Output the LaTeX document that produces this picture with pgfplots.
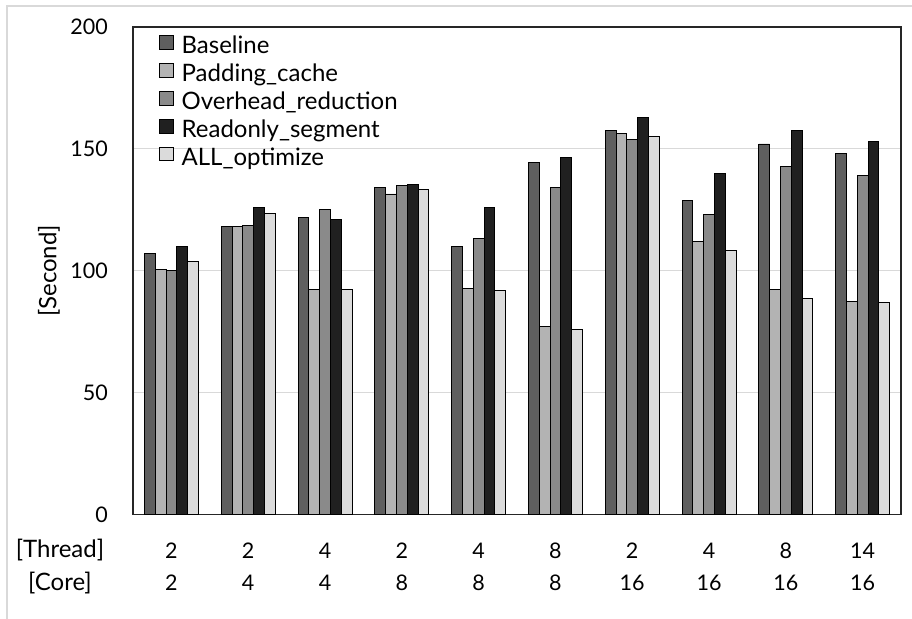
\documentclass[border=0pt]{standalone}
\usepackage{pgfplots}
\pgfplotsset{compat=1.18}
\usepackage{pgfplotstable}
\usepackage{fontspec}
\setmainfont{Lato}

\definecolor{cBase}{HTML}{5F5F5F}
\definecolor{cPad}{HTML}{B3B3B3}
\definecolor{cOver}{HTML}{8A8A8A}
\definecolor{cRead}{HTML}{202020}
\definecolor{cAll}{HTML}{DBDBDB}
\definecolor{gridgray}{HTML}{D9D9D9}

% Execution time per configuration (x = configuration index)
\pgfplotstableread{
x base pad over read all
1 107.0 100.5 100.0 110.0 103.7
2 118.0 118.0 118.6 126.1 123.6
3 122.0  92.5 125.1 121.0  92.5
4 134.0 131.5 135.1 135.5 133.5
5 110.0  92.7 113.1 126.0  92.0
6 144.5  77.2 134.0 146.4  76.0
7 157.5 156.4 153.7 162.7 155.0
8 129.0 112.0 123.2 140.0 108.3
9 152.0  92.3 142.8 157.5  88.5
10 148.0 87.4 139.2 153.1  87.0
}\timings

\newcommand{\chartfont}{\fontsize{24bp}{32bp}\selectfont}
\newcommand{\tickfont}{\fontsize{21.5bp}{32bp}\selectfont}
% two-row tick label: threads over cores
\newcommand{\tc}[2]{\strut#1\\\strut#2}

\begin{document}
\begin{tikzpicture}
\path[use as bounding box] (0,0) rectangle (912bp,619bp);
% outer chart frame
\draw[gridgray, line width=1.2bp] (7bp,0) -- (7bp,613bp) -- (912bp,613bp);
\begin{axis}[
  at={(133bp,104.5bp)}, anchor=south west,
  scale only axis, width=768bp, height=487.5bp,
  xmin=0.5, xmax=10.5, ymin=0, ymax=200,
  ytick={0,50,100,150,200},
  xtick={1,...,10},
  xticklabels={{\tc{2}{2}},{\tc{2}{4}},{\tc{4}{4}},{\tc{2}{8}},{\tc{4}{8}},
               {\tc{8}{8}},{\tc{2}{16}},{\tc{4}{16}},{\tc{8}{16}},{\tc{14}{16}}},
  major tick length=0pt,
  ymajorgrids, grid style={gridgray, line width=1.2bp},
  axis line style={black!85, line width=1.3bp},
  /pgf/number format/assume math mode=true,
  tick label style={font=\tickfont},
  yticklabel style={anchor=east, inner sep=0pt, xshift=-25bp},
  xticklabel style={anchor=north, align=center, inner sep=0pt, yshift=-21bp},
  ylabel={[Second]},
  label style={font=\chartfont},
  ylabel style={at={(axis description cs:-0.1094,0.5)}, anchor=center},
  ybar=0pt, bar width=10.8bp,
  every axis plot/.append style={draw=black, line width=0.9bp},
  legend style={at={(rel axis cs:0.0339,0.9836)}, anchor=north west,
    draw=none, fill=none, inner sep=0pt, font=\chartfont,
    row sep=4.5bp, column sep=8bp,
    nodes={inner sep=0pt, text height=15bp, text depth=5bp}},
  legend cell align=left,
  legend image code/.code={\draw[#1, draw=black, line width=0.9bp] (0bp,-0.5bp) rectangle (13.5bp,13bp);},
]
\addplot[fill=cBase] table[x=x, y=base] {\timings};
\addplot[fill=cPad]  table[x=x, y=pad]  {\timings};
\addplot[fill=cOver] table[x=x, y=over] {\timings};
\addplot[fill=cRead] table[x=x, y=read] {\timings};
\addplot[fill=cAll]  table[x=x, y=all]  {\timings};
\legend{Baseline, Padding\_cache, Overhead\_reduction, Readonly\_segment, ALL\_optimize}
\end{axis}
\node[anchor=base, font=\chartfont] at (60bp,61bp) {[Thread]};
\node[anchor=base, font=\chartfont] at (60bp,29bp) {[Core]};
\end{tikzpicture}
\end{document}
